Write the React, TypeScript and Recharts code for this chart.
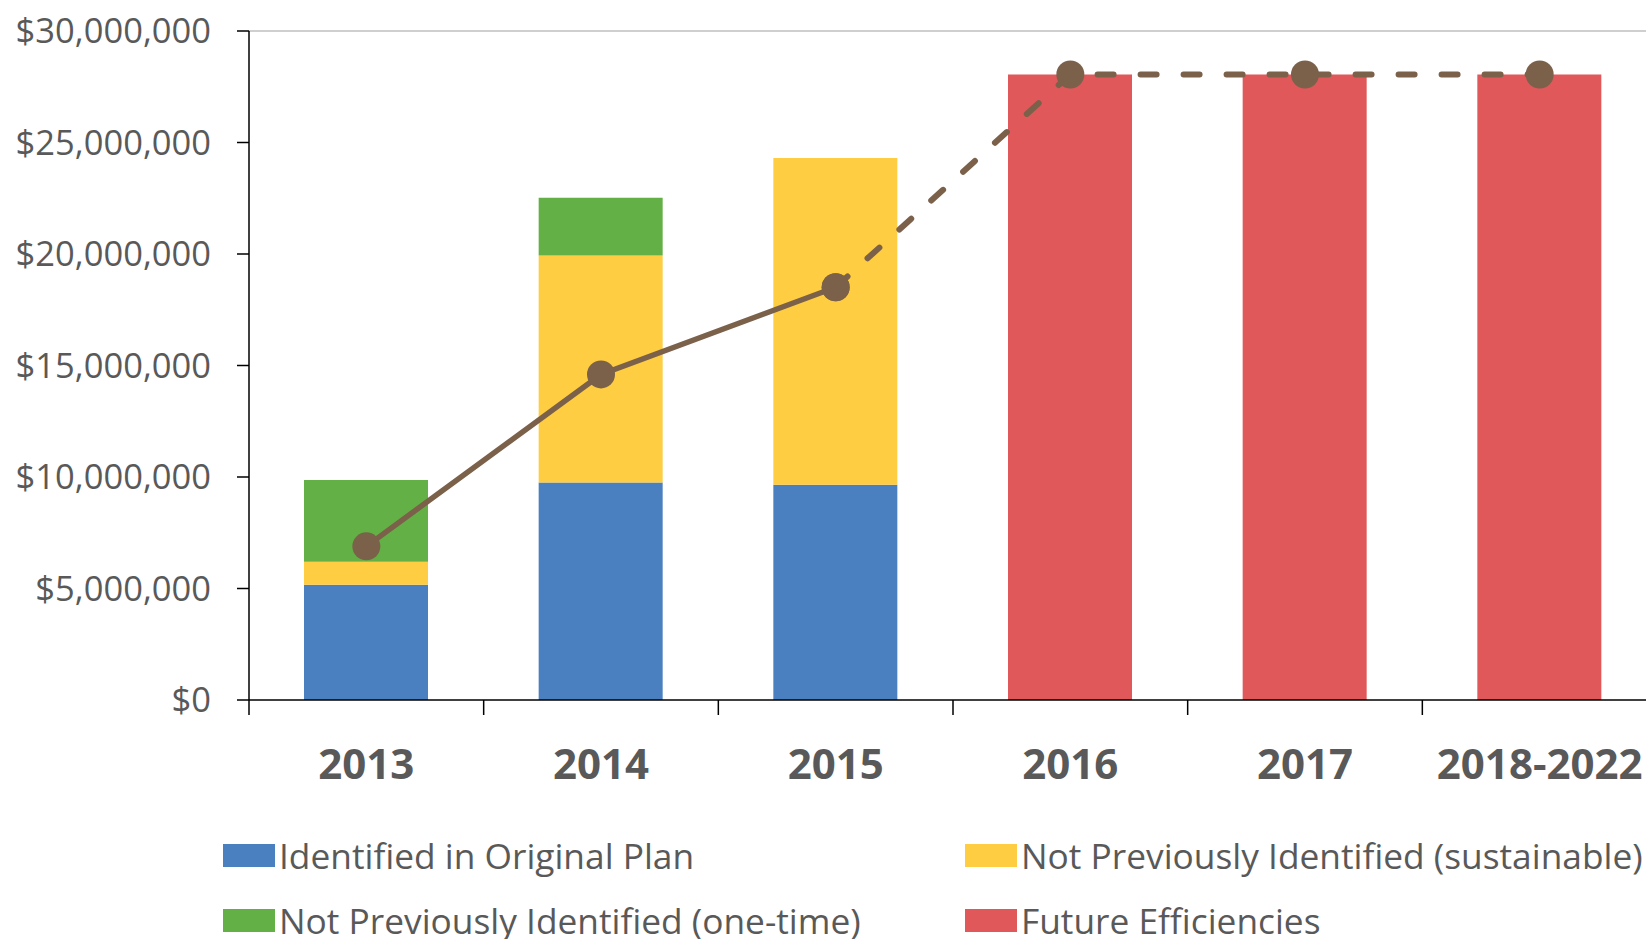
import {
  ComposedChart,
  Bar,
  Line,
  XAxis,
  YAxis,
  ReferenceLine,
  Legend,
} from "recharts";

const years = ["2013", "2014", "2015", "2016", "2017", "2018-2022"];
const originalPlan = [5170000, 9750000, 9650000, null, null, null];
const sustainable = [1030000, 10180000, 14660000, null, null, null];
const oneTime = [3670000, 2590000, null, null, null, null];
const future = [null, null, null, 28050000, 28050000, 28050000];
const actualTotal = [6890000, 14600000, 18510000, null, null, null];
const projectedTotal = [null, null, 18510000, 28050000, 28050000, 28050000];
const yTicks = [0, 5000000, 10000000, 15000000, 20000000, 25000000, 30000000];
const seriesNames = [
  "Identified in Original Plan",
  "Not Previously Identified (sustainable)",
  "Not Previously Identified (one-time)",
  "Future Efficiencies",
];

const data = years.map((year, i) => ({
  year,
  originalPlan: originalPlan[i],
  sustainable: sustainable[i],
  oneTime: oneTime[i],
  future: future[i],
  actualTotal: actualTotal[i],
  projectedTotal: projectedTotal[i],
}));

const font = "'Open Sans', sans-serif";
const grey = "#595959";
const brown = "#7b614a";

const money = (v: number) => "$" + v.toLocaleString("en-US");

// category label plus tick marks between categories (Excel style)
function YearTick(props: any) {
  const { x, y, payload, index, visibleTicksCount, width } = props;
  const half = width / visibleTicksCount / 2;
  return (
    <g>
      <line x1={x - half} x2={x - half} y1={y} y2={y + 15} stroke="#000" strokeWidth={1.5} />
      {index === visibleTicksCount - 1 && (
        <line x1={x + half} x2={x + half} y1={y} y2={y + 15} stroke="#000" strokeWidth={1.5} />
      )}
      <text
        x={x}
        y={y + 49}
        dy="0.71em"
        textAnchor="middle"
        fontSize={42}
        fontWeight={700}
        fill={grey}
        fontFamily={font}
      >
        {payload.value}
      </text>
    </g>
  );
}

function LegendGrid(props: any) {
  const items = (props.payload || [])
    .filter((p: any) => seriesNames.includes(p.value))
    .sort((a: any, b: any) => seriesNames.indexOf(a.value) - seriesNames.indexOf(b.value));
  return (
    <div
      style={{
        display: "grid",
        gridTemplateColumns: "742px 742px",
        rowGap: 30,
        fontFamily: font,
        fontSize: 35.3,
        color: grey,
      }}
    >
      {items.map((p: any) => (
        <div
          key={p.value}
          style={{ display: "flex", alignItems: "center", height: 35, lineHeight: "35px", whiteSpace: "nowrap" }}
        >
          <span style={{ width: 52, height: 23, background: p.color, marginRight: 4, display: "inline-block" }} />
          <span>{p.value}</span>
        </div>
      ))}
    </div>
  );
}

export default function App() {
  return (
    <div style={{ position: "absolute", left: 0, top: 0, width: 1646, height: 939, overflow: "hidden", background: "#fff" }}>
      <ComposedChart
        width={1680}
        height={939}
        data={data}
        margin={{ top: 31, right: 23, bottom: 138, left: 0 }}
        style={{ fontFamily: font }}
      >
        <XAxis
          dataKey="year"
          axisLine={{ stroke: "#000", strokeWidth: 1.5 }}
          tickLine={false}
          tickSize={0}
          tickMargin={0}
          height={101}
          interval={0}
          tick={<YearTick />}
        />
        <YAxis
          width={249}
          domain={[0, 30000000]}
          ticks={yTicks}
          tickFormatter={money}
          tickSize={12}
          tickMargin={26}
          axisLine={{ stroke: "#000", strokeWidth: 1.5 }}
          tickLine={{ stroke: "#000", strokeWidth: 1.5 }}
          tick={{ fontSize: 34.5, fill: grey, fontFamily: font }}
        />
        <ReferenceLine y={30000000} stroke="#bfbfbf" strokeWidth={1.5} />
        <Bar dataKey="originalPlan" name={seriesNames[0]} stackId="a" fill="#4a7fc0" barSize={124} isAnimationActive={false} />
        <Bar dataKey="sustainable" name={seriesNames[1]} stackId="a" fill="#ffcd42" barSize={124} isAnimationActive={false} />
        <Bar dataKey="oneTime" name={seriesNames[2]} stackId="a" fill="#63b146" barSize={124} isAnimationActive={false} />
        <Bar dataKey="future" name={seriesNames[3]} stackId="a" fill="#e0585a" barSize={124} isAnimationActive={false} />
        <Line
          dataKey="actualTotal"
          stroke={brown}
          strokeWidth={5.5}
          dot={{ r: 14, fill: brown, stroke: "none" }}
          legendType="none"
          isAnimationActive={false}
        />
        <Line
          dataKey="projectedTotal"
          stroke={brown}
          strokeWidth={6}
          strokeDasharray="16 27"
          strokeLinecap="round"
          dot={{ r: 14, fill: brown, stroke: "none" }}
          legendType="none"
          isAnimationActive={false}
        />
        <Legend
          layout="horizontal"
          verticalAlign="middle"
          content={<LegendGrid />}
          wrapperStyle={{ left: 223, top: 838, width: 1500 }}
        />
      </ComposedChart>
    </div>
  );
}
